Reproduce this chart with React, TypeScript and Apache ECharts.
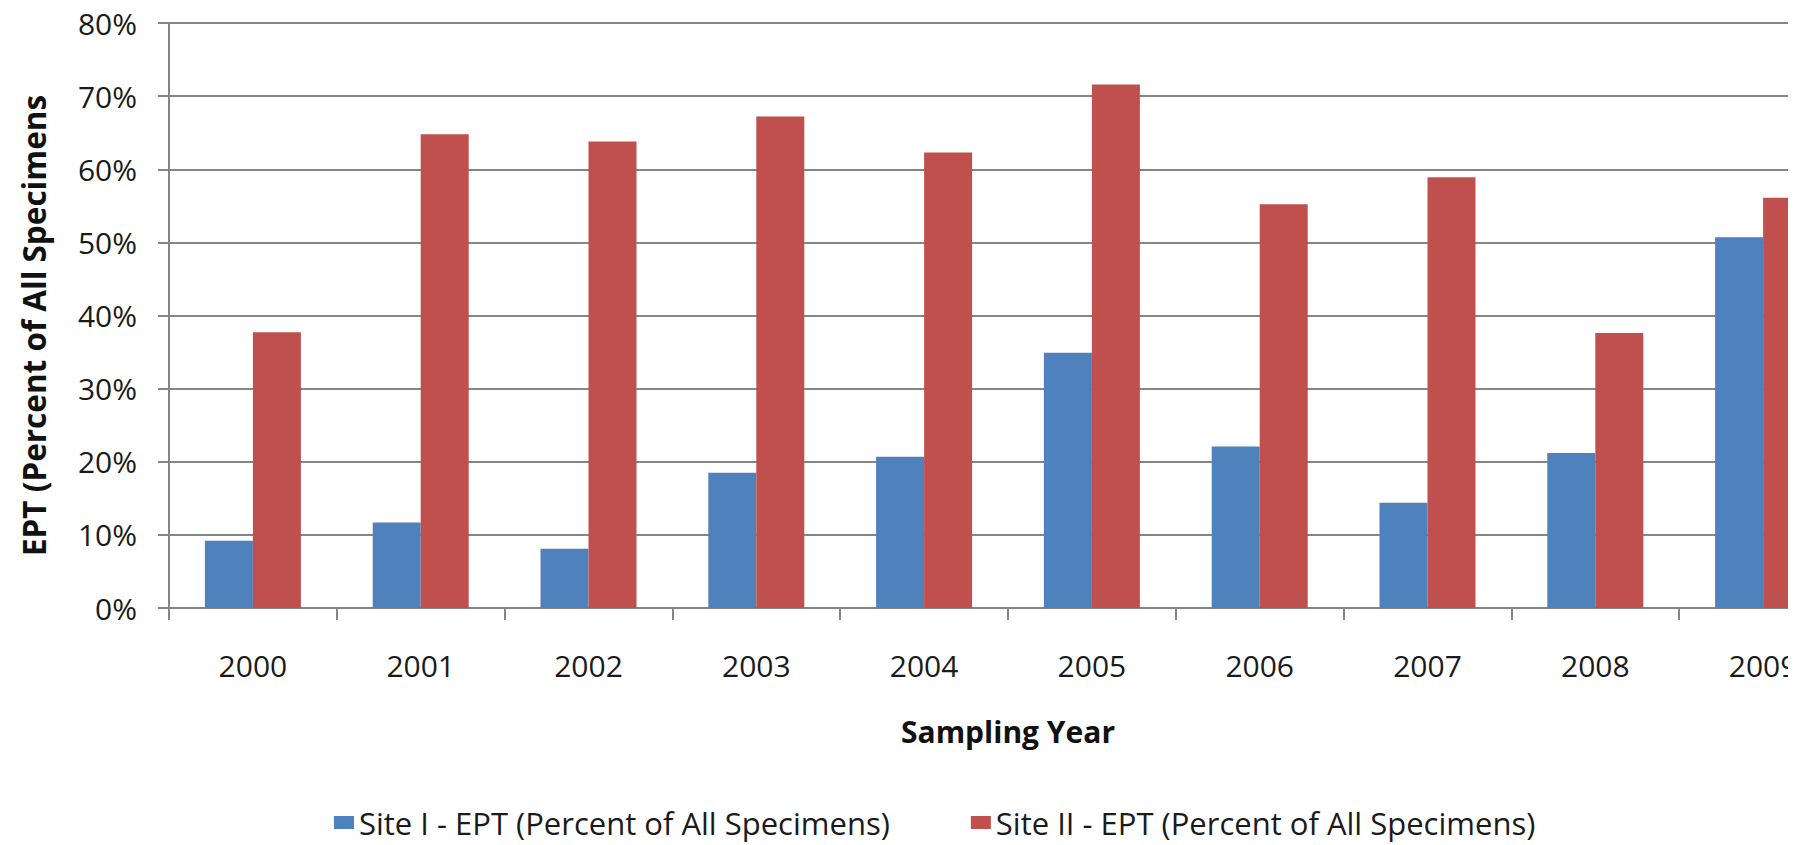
import React, { useEffect, useRef } from "react";
import * as echarts from "echarts";

// Sampling years shown on the category axis
const years = ["2000", "2001", "2002", "2003", "2004", "2005", "2006", "2007", "2008", "2009"];

// EPT share of all specimens, in percent
const siteOneEpt = [9.2, 11.7, 8.1, 18.5, 20.7, 34.9, 22.1, 14.4, 21.2, 50.7];
const siteTwoEpt = [37.7, 64.8, 63.8, 67.2, 62.3, 71.6, 55.2, 58.9, 37.6, 56.1];

const seriesNames = [
  "Site I - EPT (Percent of All Specimens)",
  "Site II - EPT (Percent of All Specimens)",
];

const FONT = "'Open Sans', 'DejaVu Sans', sans-serif";
const AXIS_GREY = "#858585";

export default function App() {
  const ref = useRef<HTMLDivElement>(null);

  useEffect(() => {
    if (!ref.current) return;
    const chart = echarts.init(ref.current, undefined, { renderer: "svg" });
    chart.setOption({
      animation: false,
      backgroundColor: "#ffffff",
      textStyle: { fontFamily: FONT },
      legend: {
        left: 329,
        top: 802,
        itemWidth: 20,
        itemHeight: 13,
        itemGap: 81,
        icon: "rect",
        textStyle: {
          fontFamily: FONT,
          fontSize: 31,
          color: "#1a1a1a",
        },
        data: seriesNames,
      },
      grid: {
        left: 169,
        top: 23,
        width: 1678,
        height: 585,
        containLabel: false,
      },
      xAxis: {
        type: "category",
        data: years,
        boundaryGap: true,
        name: "Sampling Year",
        nameLocation: "middle",
        nameGap: 108,
        nameTextStyle: {
          fontFamily: FONT,
          fontSize: 30,
          fontWeight: "bold",
          color: "#111111",
        },
        axisLine: { show: true, lineStyle: { color: AXIS_GREY, width: 2 } },
        axisTick: {
          show: true,
          alignWithLabel: false,
          length: 12,
          lineStyle: { color: AXIS_GREY, width: 2 },
        },
        axisLabel: {
          margin: 42,
          fontFamily: FONT,
          fontSize: 30,
          color: "#1a1a1a",
        },
      },
      yAxis: {
        type: "value",
        min: 0,
        max: 80,
        interval: 10,
        name: "EPT (Percent of All Specimens",
        nameLocation: "middle",
        nameRotate: 90,
        nameGap: 120,
        nameTextStyle: {
          fontFamily: FONT,
          fontSize: 31.5,
          fontWeight: "bold",
          color: "#111111",
          padding: [0, 20, 0, 0],
        },
        axisLine: { show: true, lineStyle: { color: AXIS_GREY, width: 2 } },
        axisTick: {
          show: true,
          length: 11,
          lineStyle: { color: AXIS_GREY, width: 2 },
        },
        splitLine: { show: true, lineStyle: { color: AXIS_GREY, width: 2 } },
        axisLabel: {
          margin: 32,
          fontFamily: FONT,
          fontSize: 30,
          color: "#1a1a1a",
          formatter: "{value}%",
        },
      },
      series: [
        {
          name: seriesNames[0],
          type: "bar",
          data: siteOneEpt,
          barWidth: 48,
          barGap: "0%",
          itemStyle: { color: "#4F81BD" },
        },
        {
          name: seriesNames[1],
          type: "bar",
          data: siteTwoEpt,
          barWidth: 48,
          barGap: "0%",
          itemStyle: { color: "#C0504D" },
        },
      ],
    });
    return () => chart.dispose();
  }, []);

  return (
    <div
      style={{
        position: "fixed",
        left: 0,
        top: 0,
        width: 1788,
        height: 845,
        overflow: "hidden",
        background: "#ffffff",
      }}
    >
      <div ref={ref} style={{ width: 1900, height: 845 }} />
    </div>
  );
}
